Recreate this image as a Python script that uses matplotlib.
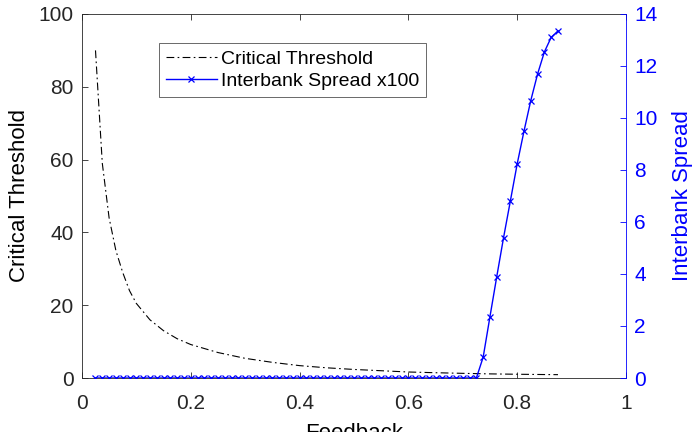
import numpy as np
import matplotlib
matplotlib.use("Agg")
import matplotlib.pyplot as plt
from matplotlib.ticker import FuncFormatter

plt.rcParams['font.family'] = ['Liberation Sans', 'DejaVu Sans']

# critical threshold curve
thr_x = [0.025, 0.0375, 0.05, 0.0625, 0.075, 0.0875, 0.1, 0.125, 0.15, 0.175,
         0.2, 0.25, 0.3, 0.35, 0.4, 0.45, 0.5, 0.55, 0.6, 0.65, 0.7, 0.75,
         0.8, 0.85, 0.875]
thr_y = [90, 59, 44, 35, 29, 24, 20.5, 16, 13, 10.8,
         9.2, 7.0, 5.4, 4.3, 3.4, 2.8, 2.35, 2.0, 1.65, 1.45, 1.28, 1.13,
         1.03, 0.95, 0.92]

# interbank spread x100, zero up to 0.725 then rising
spread_x = np.round(np.arange(0.025, 0.8751, 0.0125), 4)
spread_nonzero = [0.80, 2.36, 3.90, 5.40, 6.81, 8.23, 9.49, 10.67, 11.69,
                  12.54, 13.10, 13.35]
spread_y = [0.0] * (len(spread_x) - len(spread_nonzero)) + spread_nonzero

blue = '#0000ff'

fig = plt.figure(figsize=(6.94, 4.32), dpi=100)
ax = fig.add_axes([0.118, 0.125, 0.784, 0.8426])
ax2 = ax.twinx()

l1, = ax.plot(thr_x, thr_y, color='k', linestyle=(0, (7, 3, 1.5, 3)),
              linewidth=0.8, label='Critical Threshold')
l2, = ax2.plot(spread_x, spread_y, color=blue, linewidth=1.0, marker='x',
               markersize=5, markeredgewidth=0.9, label='Interbank Spread x100')

ax.set_xlim(0, 1)
ax.set_ylim(0, 100)
ax2.set_ylim(0, 14)
ax.set_xticks([0, 0.2, 0.4, 0.6, 0.8, 1.0])
ax.set_yticks(range(0, 101, 20))
ax2.set_yticks(range(0, 15, 2))
ax.xaxis.set_major_formatter(FuncFormatter(lambda v, p: '%g' % v))

ax.tick_params(direction='in', labelsize=15, length=4, width=0.6,
               colors='#262626', top=True, pad=6)
ax.tick_params(axis='x', pad=11.5)
ax2.tick_params(direction='in', labelsize=15, length=4, width=0.6,
                colors=blue, pad=6)

for s in ['left', 'bottom', 'top']:
    ax.spines[s].set_color('#262626')
    ax.spines[s].set_linewidth(0.6)
for s in ['left', 'bottom', 'top']:
    ax2.spines[s].set_visible(False)
ax2.spines['right'].set_color(blue)
ax2.spines['right'].set_linewidth(0.6)
ax.spines['right'].set_visible(False)

ax.set_xlabel('Feedback', fontsize=16, labelpad=7)
ax.set_ylabel('Critical Threshold', fontsize=16, labelpad=6)
ax2.set_ylabel('Interbank Spread', fontsize=16, color=blue, labelpad=10)

leg = ax2.legend([l1, l2], [l1.get_label(), l2.get_label()],
                 loc='upper left', bbox_to_anchor=(0.142, 0.92),
                 fontsize=14, frameon=True, fancybox=False,
                 handlelength=2.6, handletextpad=0.25, borderpad=0.35,
                 labelspacing=0.25, borderaxespad=0)
leg.get_frame().set_edgecolor('#262626')
leg.get_frame().set_linewidth(0.6)

fig.savefig('out.png', dpi=100)
